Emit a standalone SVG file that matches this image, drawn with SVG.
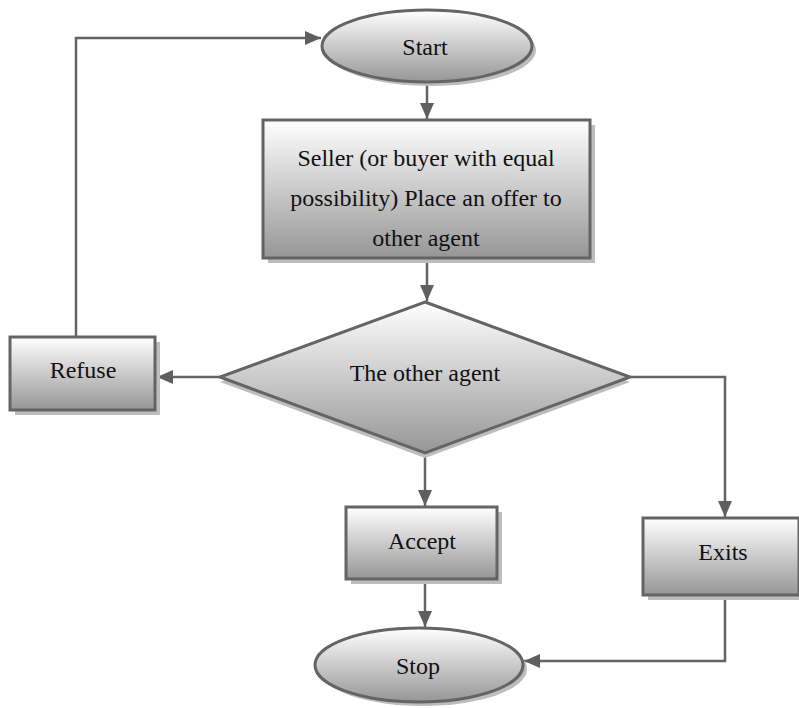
<svg xmlns="http://www.w3.org/2000/svg" width="799" height="708" viewBox="0 0 799 708">
<defs>
<linearGradient id="g" x1="0" y1="0" x2="0" y2="1">
<stop offset="0" stop-color="#ffffff"/>
<stop offset="1" stop-color="#969696"/>
</linearGradient>
<marker id="a" viewBox="0 0 16 14" refX="16" refY="7" markerWidth="16" markerHeight="14" orient="auto" markerUnits="userSpaceOnUse">
<path d="M0,0 L16,7 L0,14 Z" fill="#5f5f5f"/>
</marker>
</defs>
<style>
.n{fill:url(#g);stroke:#646464;stroke-width:3}
.sh{fill:#bdbdbd}
.t{font-size:24px;fill:#111;text-anchor:middle}
.c{fill:none;stroke:#646464;stroke-width:2.5}
</style>
<rect width="799" height="708" fill="#fff"/>
<g id="connectors">
<path class="c" d="M427,82 V119" marker-end="url(#a)"/>
<path class="c" d="M427,258 V301" marker-end="url(#a)"/>
<path class="c" d="M220,377 H157" marker-end="url(#a)"/>
<path class="c" d="M76,337 V38 H321" marker-end="url(#a)"/>
<path class="c" d="M630,377 H725 V517" marker-end="url(#a)"/>
<path class="c" d="M425,453 V506" marker-end="url(#a)"/>
<path class="c" d="M425,579 V627" marker-end="url(#a)"/>
<path class="c" d="M725,595 V661 H524" marker-end="url(#a)"/>
</g>
<g font-family="'Liberation Serif', 'Times New Roman', 'DejaVu Serif', serif">
<g id="start">
<ellipse class="sh" cx="431" cy="50" rx="105" ry="36"/>
<ellipse class="n" cx="427" cy="46" rx="105" ry="36"/>
<text class="t" x="425" y="55">Start</text>
</g>
<g id="offer">
<rect class="sh" x="268" y="125" width="327" height="138"/>
<rect class="n" x="263" y="120" width="327" height="138"/>
<text class="t" x="426" y="166">Seller (or buyer with equal</text>
<text class="t" x="426" y="206">possibility) Place an offer to</text>
<text class="t" x="426" y="246">other agent</text>
</g>
<g id="refuse">
<rect class="sh" x="15" y="342" width="145" height="73"/>
<rect class="n" x="10" y="337" width="145" height="73"/>
<text class="t" x="83" y="378">Refuse</text>
</g>
<g id="decision">
<polygon class="sh" points="425,307 630,382 425,458 220,382"/>
<polygon class="n" points="425,302 630,377 425,453 220,377"/>
<text class="t" x="425" y="381">The other agent</text>
</g>
<g id="accept">
<rect class="sh" x="351" y="512" width="151" height="72"/>
<rect class="n" x="346" y="507" width="151" height="72"/>
<text class="t" x="422" y="549">Accept</text>
</g>
<g id="exits">
<rect class="sh" x="648" y="523" width="156" height="77"/>
<rect class="n" x="643" y="518" width="156" height="77"/>
<text class="t" x="723" y="560">Exits</text>
</g>
<g id="stop">
<ellipse class="sh" cx="423" cy="669" rx="104" ry="37"/>
<ellipse class="n" cx="419" cy="665" rx="104" ry="37"/>
<text class="t" x="418" y="674">Stop</text>
</g>
</g>
</svg>
